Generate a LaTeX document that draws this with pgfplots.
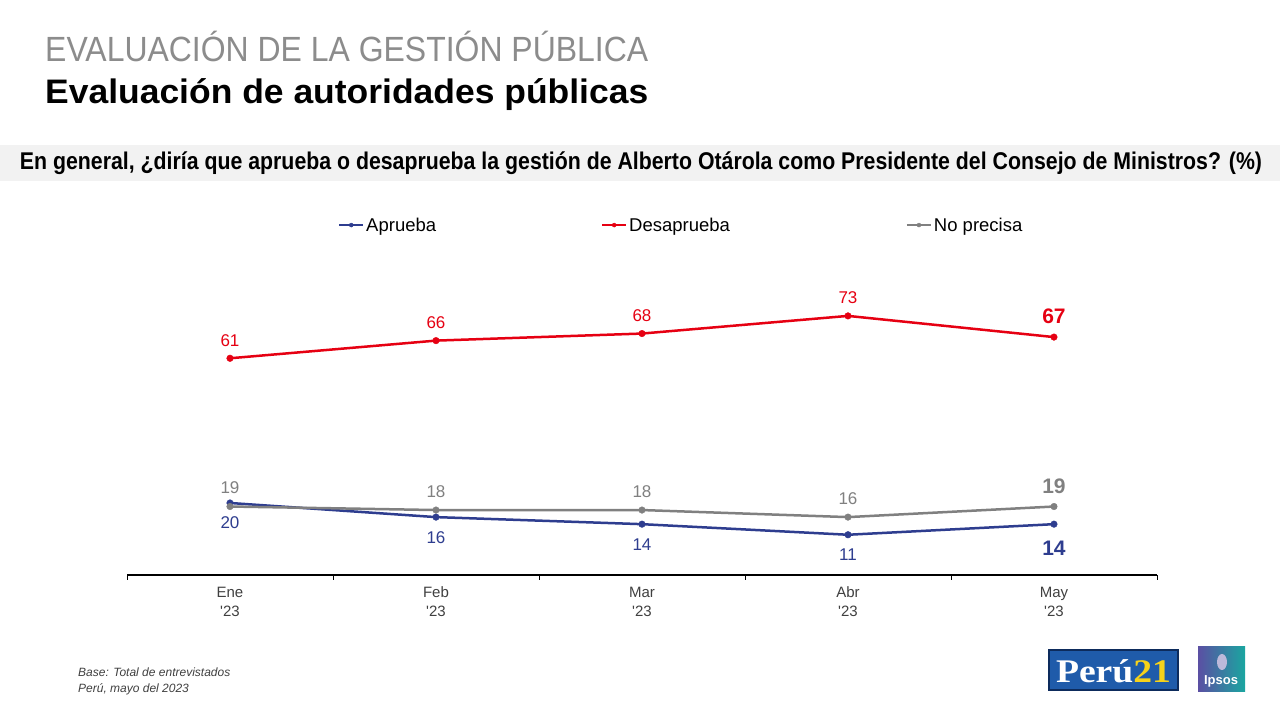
\documentclass[border=0pt]{standalone}
\usepackage{fontspec}
\setmainfont{Liberation Sans}
\newfontfamily\serifbold{Liberation Serif}
\usepackage{pgfplots}
\pgfplotsset{compat=1.18}
\definecolor{cblue}{HTML}{2E3D8F}
\definecolor{cred}{HTML}{E60012}
\definecolor{cgrey}{HTML}{808080}
\definecolor{ttlgrey}{HTML}{8C8C8C}
\definecolor{band}{HTML}{F2F2F2}
\definecolor{txt}{HTML}{404040}
\definecolor{p21blue}{HTML}{1F5BAA}
\definecolor{p21dark}{HTML}{0D2B5C}
\definecolor{p21yellow}{HTML}{F6D21A}
\definecolor{ipsA}{HTML}{5B4FA3}
\definecolor{ipsB}{HTML}{1AA6A0}
\begin{document}
\begin{tikzpicture}[x=1pt,y=1pt]
\fill[white] (0,0) rectangle (1280,720);
% titles
\node[anchor=base west, inner sep=0, text=ttlgrey] at (45,658) {\resizebox{603pt}{\height}{\fontsize{35}{40}\selectfont EVALUACIÓN DE LA GESTIÓN PÚBLICA}};
\node[anchor=base west, inner sep=0, text=black] at (45,616) {\resizebox{603pt}{\height}{\fontsize{34}{40}\selectfont\bfseries Evaluación de autoridades públicas}};
% question band
\fill[band] (0,539) rectangle (1280,575);
\node[anchor=center, inner sep=0, text=black] at (641,557) {\resizebox{1242pt}{1.1\height}{\fontsize{22}{24}\selectfont\bfseries En general, ¿diría que aprueba o desaprueba la gestión de Alberto Otárola como Presidente del Consejo de Ministros? (\%)}};
% footer
\node[anchor=base west, inner sep=0, text=txt] at (78,43) {\fontsize{12}{14}\selectfont\itshape Base: Total de entrevistados};
\node[anchor=base west, inner sep=0, text=txt] at (78,27) {\fontsize{12}{14}\selectfont\itshape Perú, mayo del 2023};
% logos
\draw[draw=p21dark, line width=1.5pt, fill=p21blue] (1049,30) rectangle (1178,70);
\node[anchor=base, inner sep=0] at (1113.5,37) {\resizebox{115pt}{\height}{\fontsize{33}{33}\selectfont\serifbold\bfseries\textcolor{white}{Perú}\textcolor{p21yellow}{21}}};
\shade[left color=ipsA, right color=ipsB] (1198,28) rectangle (1245,73);
\fill[white!60!ipsA] (1222,58) ellipse (5 and 8);
\node[anchor=base, inner sep=0, text=white] at (1221,35) {\fontsize{13}{14}\selectfont\bfseries Ipsos};
\begin{axis}[
  at={(127pt,145pt)}, anchor=south west, scale only axis,
  width=1030pt, height=283.8pt,
  xmin=-0.5, xmax=4.5, ymin=-0.4, ymax=80,
  axis y line=none, axis x line*=bottom,
  axis line style={black, line width=1.2pt, -},
  xtick={0,1,2,3,4},
  xticklabels={\strut Ene\\\strut\textquotesingle23, \strut Feb\\\strut\textquotesingle23, \strut Mar\\\strut\textquotesingle23, \strut Abr\\\strut\textquotesingle23, \strut May\\\strut\textquotesingle23},
  minor xtick={-0.5,0.5,1.5,2.5,3.5,4.5},
  major tick length=0pt, minor tick length=5pt, tick align=outside,
  minor tick style={black, line width=0.8pt},
  xticklabel style={font=\fontsize{15}{19}\selectfont, text=txt, align=center, yshift=-6pt},
  /pgf/number format/assume math mode=true,
  clip=false,
  legend columns=3,
  legend style={draw=none, fill=none, at={(0.2049,1.233)}, anchor=west,
    font=\fontsize{18.5}{20}\selectfont, inner sep=0pt,
    /tikz/column 2/.style={column sep=163pt},
    /tikz/column 4/.style={column sep=174pt}},
  legend cell align=left,
  legend image code/.code={\draw[mark repeat=2,mark phase=2,#1] plot coordinates {(0pt,0pt)(12pt,0pt)(24pt,0pt)};},
  legend image post style={line width=2pt, mark size=2pt},
  every axis plot/.append style={line width=2.5pt, mark=*, mark size=3.3pt, mark options={line width=0.4pt}},
]
\addplot[cblue] coordinates {(0,20)(1,16)(2,14)(3,11)(4,14)};
\addplot[cred] coordinates {(0,61)(1,66)(2,68)(3,73)(4,67)};
\addplot[cgrey] coordinates {(0,19)(1,18)(2,18)(3,16)(4,19)};
\legend{Aprueba,Desaprueba,No precisa}
% labels
\addplot[forget plot, draw=none, mark=none, nodes near coords, point meta=y,
  every node near coord/.style={anchor=base, inner sep=0pt, yshift=-26pt, text=cblue, font=\fontsize{17}{20}\selectfont}]
  coordinates {(0,20)(1,16)(2,14)(3,11)};
\addplot[forget plot, draw=none, mark=none, nodes near coords, point meta=y,
  every node near coord/.style={anchor=base, inner sep=0pt, yshift=-31.5pt, text=cblue, font=\fontsize{21}{24}\selectfont\bfseries}]
  coordinates {(4,14)};
\addplot[forget plot, draw=none, mark=none, nodes near coords, point meta=y,
  every node near coord/.style={anchor=base, inner sep=0pt, yshift=12pt, text=cred, font=\fontsize{17}{20}\selectfont}]
  coordinates {(0,61)(1,66)(2,68)(3,73)};
\addplot[forget plot, draw=none, mark=none, nodes near coords, point meta=y,
  every node near coord/.style={anchor=base, inner sep=0pt, yshift=13.5pt, text=cred, font=\fontsize{21}{24}\selectfont\bfseries}]
  coordinates {(4,67)};
\addplot[forget plot, draw=none, mark=none, nodes near coords, point meta=y,
  every node near coord/.style={anchor=base, inner sep=0pt, yshift=13pt, text=cgrey, font=\fontsize{17}{20}\selectfont}]
  coordinates {(0,19)(1,18)(2,18)(3,16)};
\addplot[forget plot, draw=none, mark=none, nodes near coords, point meta=y,
  every node near coord/.style={anchor=base, inner sep=0pt, yshift=13.5pt, text=cgrey, font=\fontsize{21}{24}\selectfont\bfseries}]
  coordinates {(4,19)};
\end{axis}
\end{tikzpicture}
\end{document}
